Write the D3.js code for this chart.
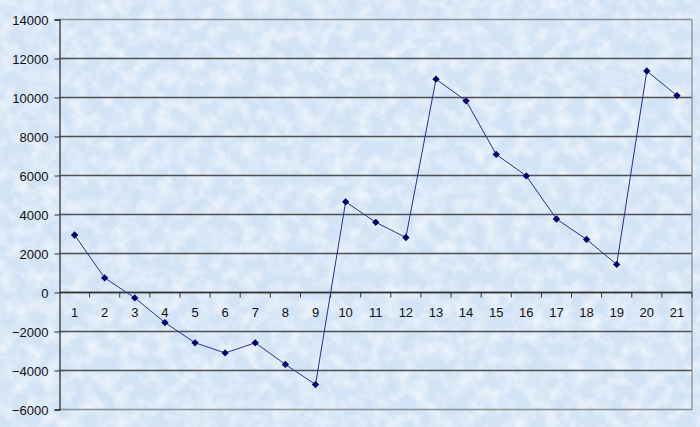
<!DOCTYPE html>
<html>
<head>
<meta charset="utf-8">
<script src="https://cdn.jsdelivr.net/npm/d3@7"></script>
<style>
  body { margin: 0; padding: 0; }
  svg { display: block; }
  .tick text { font-family: "Liberation Sans", Arial, sans-serif; font-size: 13px; fill: #111; }
</style>
</head>
<body>
<div id="chart"></div>
<script>
// data
var categories = d3.range(1, 22).map(String);
var values = [2950, 750, -280, -1540, -2580, -3100, -2580, -3690, -4720, 4650,
              3600, 2820, 10940, 9830, 7080, 5980, 3770, 2720, 1440, 11360, 10100];
var yTicks = [-6000, -4000, -2000, 0, 2000, 4000, 6000, 8000, 10000, 12000, 14000];

var W = 700, H = 427;
var margin = {top: 19.5, right: 8, bottom: 17.5, left: 59.5};
var width = W - margin.left - margin.right,
    height = H - margin.top - margin.bottom;

var svg = d3.select("#chart").append("svg")
    .attr("width", W).attr("height", H);

// textured light blue background
var defs = svg.append("defs");
var f = defs.append("filter").attr("id", "tex").attr("x", 0).attr("y", 0).attr("width", 1).attr("height", 1);
f.append("feTurbulence").attr("type", "fractalNoise").attr("baseFrequency", "0.07")
    .attr("numOctaves", 4).attr("seed", 7).attr("result", "n");
f.append("feColorMatrix").attr("in", "n").attr("type", "matrix")
    .attr("values", "0 0 0 0 1  0 0 0 0 1  0 0 0 0 1  1.2 0 0 0 -0.45")
    .attr("result", "w");
f.append("feComposite").attr("in", "w").attr("in2", "SourceGraphic").attr("operator", "over");

svg.append("rect").attr("width", W).attr("height", H)
    .attr("fill", "#d2e3f5").attr("filter", "url(#tex)");

var g = svg.append("g")
    .attr("transform", "translate(" + margin.left + "," + margin.top + ")");

var x = d3.scaleBand().domain(categories).range([0, width]);
var y = d3.scaleLinear().domain([-6000, 14000]).range([height, 0]);

// grid lines
g.selectAll(".grid")
    .data(yTicks)
  .enter().append("line")
    .attr("class", "grid")
    .attr("x1", 0).attr("x2", width)
    .attr("y1", function(d) { return Math.round(y(d)); })
    .attr("y2", function(d) { return Math.round(y(d)); })
    .attr("stroke", function(d) { return (d == 14000 || d == -6000) ? "#8a8f96" : "#4d4f55"; })
    .attr("stroke-width", 1.3);

// plot border right
g.append("line")
    .attr("x1", width).attr("x2", width)
    .attr("y1", 0).attr("y2", height)
    .attr("stroke", "#8a8f96").attr("stroke-width", 1.3);

// y axis
var yAxis = d3.axisLeft(y).tickValues(yTicks).tickSize(5).tickPadding(6)
    .tickFormat(d3.format("d"));
var ya = g.append("g").attr("class", "axis yaxis").call(yAxis);
ya.select(".domain").attr("stroke", "#333").attr("stroke-width", 1.3);
ya.selectAll(".tick line").attr("stroke", "#333");
ya.selectAll(".tick text").attr("dy", "0.36em");

// x axis at zero, ticks between categories
var xa = g.append("g")
    .attr("class", "axis xaxis")
    .attr("transform", "translate(0," + Math.round(y(0)) + ")");
xa.append("line").attr("x1", 0).attr("x2", width)
    .attr("stroke", "#333").attr("stroke-width", 1.3);
xa.selectAll(".xt")
    .data(categories.slice(1))
  .enter().append("line")
    .attr("x1", function(d) { return x(d); })
    .attr("x2", function(d) { return x(d); })
    .attr("y1", 0).attr("y2", 5)
    .attr("stroke", "#333");
xa.append("line").attr("x1", width).attr("x2", width).attr("y1", 0).attr("y2", 5).attr("stroke", "#333");
xa.selectAll(".tick")
    .data(categories)
  .enter().append("g").attr("class", "tick")
  .append("text")
    .attr("x", function(d) { return x(d) + x.bandwidth() / 2; })
    .attr("y", 20)
    .attr("text-anchor", "middle")
    .attr("dy", "0.36em")
    .text(function(d) { return d; });

// line
var pts = categories.map(function(c, i) { return {c: c, v: values[i]}; });
var line = d3.line()
    .x(function(d) { return x(d.c) + x.bandwidth() / 2; })
    .y(function(d) { return y(d.v); });

g.append("path").datum(pts)
    .attr("d", line)
    .attr("fill", "none")
    .attr("stroke", "#2a2f8c")
    .attr("stroke-width", 1);

var diamond = d3.symbol().type(d3.symbolDiamond2).size(34);
g.selectAll(".pt")
    .data(pts)
  .enter().append("path")
    .attr("class", "pt")
    .attr("d", diamond)
    .attr("transform", function(d) { return "translate(" + (x(d.c) + x.bandwidth() / 2) + "," + y(d.v) + ")"; })
    .attr("fill", "#00006e");
</script>
</body>
</html>
